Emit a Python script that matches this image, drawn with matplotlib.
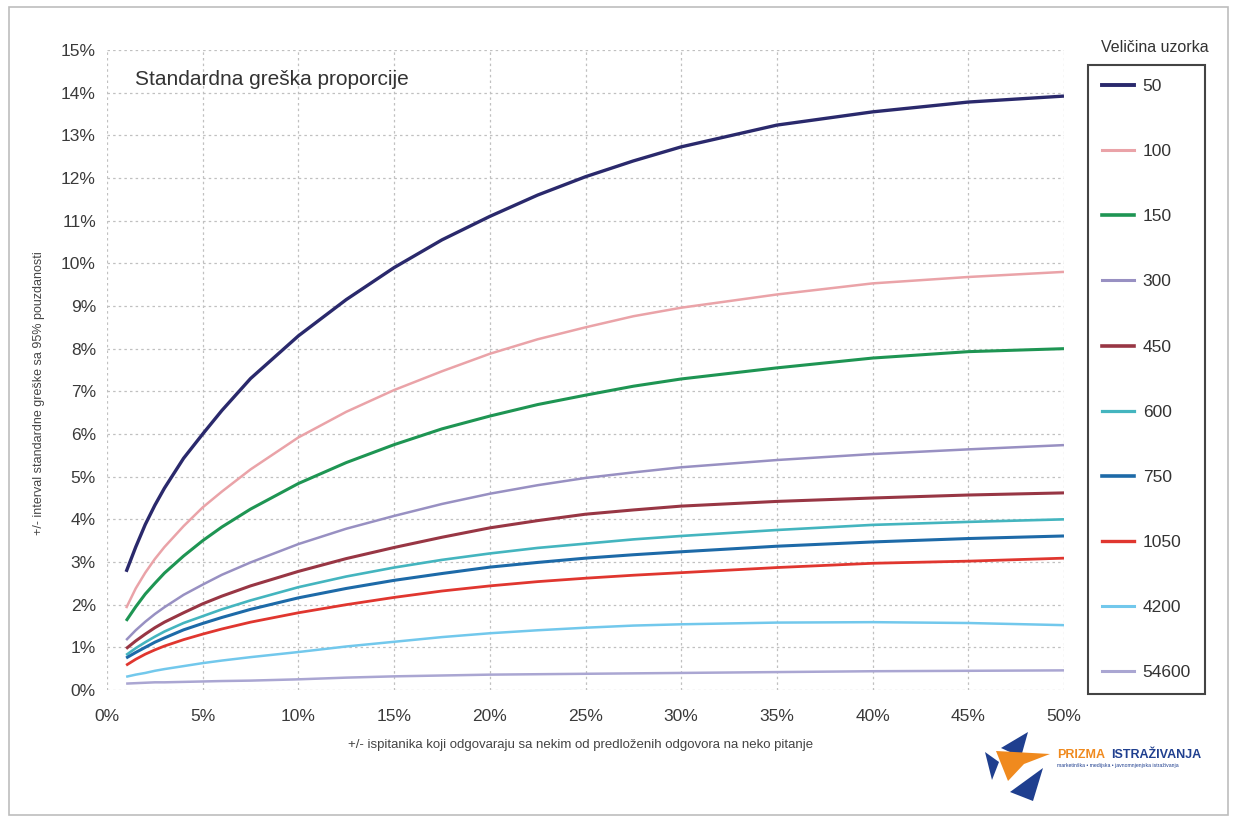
import matplotlib
matplotlib.use("Agg")
import matplotlib.pyplot as plt
from matplotlib.lines import Line2D
from matplotlib.patches import Polygon, Rectangle
from matplotlib.ticker import FuncFormatter, MultipleLocator

plt.rcParams['font.family'] = ['Liberation Sans', 'DejaVu Sans']

# Share of respondents (percent) at which each curve is sampled
x_pct = [1, 1.5, 2, 2.5, 3, 4, 5, 6, 7.5, 10, 12.5, 15, 17.5, 20, 22.5, 25, 27.5, 30,
         35, 40, 45, 50]

# +/- 95% interval of the standard error (percent) by sample size
se_50 = [2.77, 3.35, 3.88, 4.33, 4.73, 5.43, 6.0, 6.55, 7.3, 8.3, 9.15, 9.9, 10.55, 11.1,
         11.6, 12.03, 12.4, 12.73, 13.24, 13.55, 13.78, 13.92]
se_100 = [1.92, 2.38, 2.75, 3.07, 3.35, 3.84, 4.28, 4.65, 5.17, 5.92, 6.52, 7.03, 7.47, 7.88,
          8.22, 8.5, 8.76, 8.96, 9.27, 9.53, 9.68, 9.8]
se_150 = [1.62, 1.95, 2.25, 2.5, 2.74, 3.14, 3.5, 3.82, 4.24, 4.84, 5.33, 5.75, 6.12, 6.42,
          6.69, 6.91, 7.12, 7.29, 7.55, 7.78, 7.93, 8.0]
se_300 = [1.17, 1.4, 1.6, 1.78, 1.94, 2.23, 2.47, 2.7, 2.99, 3.42, 3.78, 4.08, 4.36, 4.6,
          4.8, 4.97, 5.1, 5.22, 5.39, 5.53, 5.64, 5.74]
se_450 = [0.97, 1.15, 1.31, 1.46, 1.59, 1.81, 2.02, 2.2, 2.44, 2.78, 3.08, 3.34, 3.58, 3.8,
          3.97, 4.12, 4.22, 4.31, 4.42, 4.5, 4.57, 4.62]
se_600 = [0.82, 0.98, 1.12, 1.25, 1.37, 1.57, 1.73, 1.89, 2.1, 2.41, 2.66, 2.87, 3.05, 3.2,
          3.33, 3.43, 3.53, 3.61, 3.75, 3.87, 3.94, 4.0]
se_750 = [0.75, 0.88, 1.0, 1.12, 1.22, 1.41, 1.56, 1.7, 1.89, 2.16, 2.38, 2.57, 2.73, 2.88,
          2.99, 3.09, 3.17, 3.24, 3.37, 3.47, 3.55, 3.61]
se_1050 = [0.58, 0.72, 0.84, 0.94, 1.03, 1.18, 1.31, 1.43, 1.59, 1.81, 2.0, 2.17, 2.32, 2.44,
           2.54, 2.62, 2.69, 2.75, 2.87, 2.97, 3.02, 3.09]
se_4200 = [0.31, 0.36, 0.4, 0.45, 0.49, 0.56, 0.63, 0.69, 0.77, 0.89, 1.02, 1.13, 1.24, 1.33,
           1.4, 1.46, 1.51, 1.54, 1.58, 1.59, 1.57, 1.52]
se_54600 = [0.15, 0.16, 0.17, 0.18, 0.18, 0.19, 0.2, 0.21, 0.22, 0.25, 0.29, 0.32, 0.34, 0.36,
            0.37, 0.38, 0.39, 0.4, 0.42, 0.44, 0.45, 0.46]

sample_sizes = ["50", "100", "150", "300", "450", "600", "750", "1050", "4200", "54600"]
series = [se_50, se_100, se_150, se_300, se_450, se_600, se_750, se_1050, se_4200, se_54600]
colors = ["#2a296c", "#eaa3a8", "#1e9553", "#9890c2", "#983644",
          "#44b5bf", "#1d6aa8", "#e0362f", "#72c8ec", "#aaa6d2"]
widths = [2.4, 1.8, 2.2, 1.8, 2.2, 1.9, 2.2, 2.0, 1.8, 1.8]

W, H = 1235, 821
fig = plt.figure(figsize=(W / 100, H / 100), dpi=100)
fig.patch.set_facecolor("white")

ax = fig.add_axes([107 / W, 1 - 690 / H, (1064 - 107) / W, (690 - 50) / H])
for vals, c, lw in zip(series, colors, widths):
    ax.plot(x_pct, vals, color=c, lw=lw, solid_capstyle="butt",
            solid_joinstyle="round", zorder=3)

ax.set_xlim(0, 50)
ax.set_ylim(0, 15)
ax.xaxis.set_major_locator(MultipleLocator(5))
ax.yaxis.set_major_locator(MultipleLocator(1))
pct = FuncFormatter(lambda v, _: f"{v:.0f}%")
ax.xaxis.set_major_formatter(pct)
ax.yaxis.set_major_formatter(pct)
ax.tick_params(length=0, labelsize=12.5, labelcolor="#3a3a3a")
ax.tick_params(axis="x", pad=14)
ax.tick_params(axis="y", pad=8)
ax.grid(True, color="#c0c0c0", lw=0.9, ls=(0, (2, 2.5)), zorder=0)
for s in ax.spines.values():
    s.set_visible(False)

ax.text(28 / 957 * 50, 15 - 30 / 42.67, "Standardna greška proporcije",
        fontsize=15, color="#333333", va="center", ha="left")

fig.text(39 / W, 1 - 393 / H, "+/- interval standardne greške sa 95% pouzdanosti",
         rotation=90, fontsize=9, color="#444444", ha="center", va="center")
fig.text(581 / W, 1 - 745 / H,
         "+/- ispitanika koji odgovaraju sa nekim od predloženih odgovora na neko pitanje",
         fontsize=9.5, color="#444444", ha="center", va="center")

# Legend with sample sizes
handles = [Line2D([0], [0], color=c, lw=lw + 0.4) for c, lw in zip(colors, widths)]
leg = fig.legend(handles, sample_sizes, loc="upper left",
                 bbox_to_anchor=(1088 / W, 1 - 65 / H),
                 fontsize=12.5, labelspacing=2.88, handlelength=1.85,
                 handletextpad=0.5, borderpad=0.8, borderaxespad=0,
                 fancybox=False, framealpha=1)
leg.get_frame().set_edgecolor("#444444")
leg.get_frame().set_linewidth(1.5)
for t in leg.get_texts():
    t.set_color("#333333")
fig.text(1155 / W, 1 - 47 / H, "Veličina uzorka", fontsize=11.5,
         color="#333333", ha="center", va="center")

# Overlay in pixel coordinates for page border and logo
ov = fig.add_axes([0, 0, 1, 1], zorder=-1)
ov.set_xlim(0, W)
ov.set_ylim(H, 0)
ov.axis("off")
ov.add_patch(Rectangle((9, 7), 1219, 808, fill=False, ec="#bdbdbd", lw=1.2))

blue = "#1f3f8f"
orange = "#f08a1e"
ov.add_patch(Polygon([(1001, 748), (1028, 732), (1021, 757)], closed=True, fc=blue, ec="none"))
ov.add_patch(Polygon([(985, 752), (999, 762), (992, 780)], closed=True, fc=blue, ec="none"))
ov.add_patch(Polygon([(1010, 792), (1043, 768), (1033, 801)], closed=True, fc=blue, ec="none"))
ov.add_patch(Polygon([(996, 751), (1050, 754), (1024, 764), (1008, 781)], closed=True,
                     fc=orange, ec="none"))
ov.text(1057, 755, "PRIZMA", color=orange, fontsize=9, fontweight="bold",
        ha="left", va="center")
ov.text(1111, 755, "ISTRAŽIVANJA", color=blue, fontsize=9, fontweight="bold",
        ha="left", va="center")
ov.text(1057, 766, "marketinška • medijska • javnomnjenjska istraživanja", color=blue,
        fontsize=3.7, ha="left", va="center")

fig.savefig("out.png", dpi=100, facecolor="white")
